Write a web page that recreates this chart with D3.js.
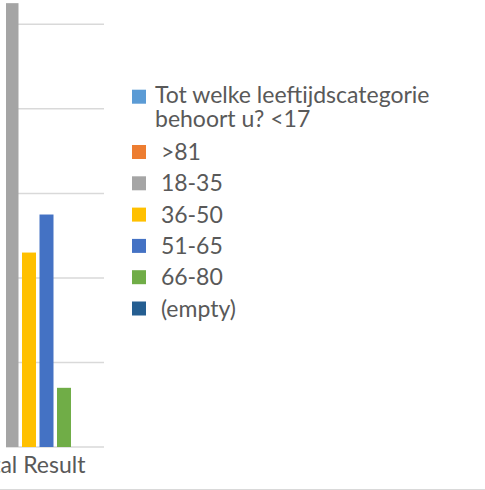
<!DOCTYPE html>
<html>
<head>
<meta charset="utf-8">
<script src="https://cdn.jsdelivr.net/npm/d3@7"></script>
<style>
  html, body { margin: 0; padding: 0; background: #fff; }
  svg { display: block; font-family: Lato, "Open Sans", sans-serif; }
</style>
</head>
<body>
<svg id="chart" width="485" height="490"></svg>
<script>
// Pivot chart, one category ("Total Result"), one bar per age group
const categories = ['Total Result']
const seriesNames = ['Tot welke leeftijdscategorie behoort u? <17', ' >81', ' 18-35', ' 36-50', ' 51-65', ' 66-80', ' (empty)']
const seriesColors = ['#5B9BD5', '#ED7D31', '#A5A5A5', '#FFC000', '#4472C4', '#70AD47', '#255E91']
const seriesValues = [0, 0, 105, 46, 55, 14, 0]
const yTicks = [0, 20, 40, 60, 80, 100]

const textColor = '#595959'
const gridColor = '#D9D9D9'
const fontSize = 23

const svg = d3.select('#chart')

// The plot area is cut off on the left in the reference, so it starts off-screen
const plot = { left: -46, right: 104, top: 24.3, bottom: 447, clipLeft: 6 }

const y = d3.scaleLinear().domain([0, 100]).range([plot.bottom, plot.top])
const xCat = d3.scaleBand().domain(categories).range([plot.left, plot.right])

// Excel-style clustered columns: cluster = band / (1 + gap width)
const gapWidth = 0.2245
const clusterW = xCat.bandwidth() / (1 + gapWidth)
const xSeries = d3.scaleBand().domain(seriesNames)
  .paddingInner(0.2).paddingOuter(0.1)

svg.append('defs').append('clipPath').attr('id', 'plot-clip')
  .append('rect')
  .attr('x', plot.clipLeft).attr('y', 0)
  .attr('width', plot.right - plot.clipLeft).attr('height', plot.bottom + 2)

const g = svg.append('g').attr('clip-path', 'url(#plot-clip)')

g.append('g').selectAll('line')
  .data(yTicks)
  .join('line')
  .attr('x1', plot.left).attr('x2', plot.right)
  .attr('y1', d => y(d)).attr('y2', d => y(d))
  .attr('stroke', gridColor)
  .attr('stroke-width', 1.5)

categories.forEach(cat => {
  const cx = xCat(cat) + xCat.bandwidth() / 2
  xSeries.range([cx - clusterW / 2, cx + clusterW / 2])
  g.append('g').selectAll('rect')
    .data(seriesValues.map((v, i) => ({ name: seriesNames[i], value: v, color: seriesColors[i] })))
    .join('rect')
    .attr('x', d => xSeries(d.name))
    .attr('width', xSeries.bandwidth())
    .attr('y', d => y(d.value))
    .attr('height', d => y(0) - y(d.value))
    .attr('fill', d => d.color)

  svg.append('text')
    .attr('x', cx - 2).attr('y', 473)
    .attr('text-anchor', 'middle')
    .attr('fill', textColor)
    .attr('font-size', fontSize)
    .text(cat)
})

// legend
const legend = svg.append('g')
const markerX = 132, markerSize = 14, textX = 155
const rowGap = 31.3, lineGap = 24, maxTextW = 300
let cy = 96.7
seriesNames.forEach((name, i) => {
  const item = legend.append('g')
  item.append('rect')
    .attr('x', markerX).attr('y', cy - markerSize / 2)
    .attr('width', markerSize).attr('height', markerSize)
    .attr('fill', seriesColors[i])
  const text = item.append('text')
    .attr('fill', textColor)
    .attr('font-size', fontSize)
    .style('white-space', 'pre')

  // simple word wrap
  const words = name.split(' ')
  let line = []
  let lines = 0
  const base = cy + (i === 0 ? 6.5 : 8)
  let tspan = text.append('tspan').attr('x', textX).attr('y', base)
  words.forEach(w => {
    line.push(w)
    tspan.text(line.join(' '))
    if (tspan.node().getComputedTextLength() > maxTextW && line.length > 1) {
      line.pop()
      tspan.text(line.join(' '))
      line = [w]
      lines++
      tspan = text.append('tspan').attr('x', textX).attr('y', base + lines * lineGap).text(w)
    }
  })
  cy += rowGap + lines * lineGap
})

// chart border bottom edge
svg.append('line')
  .attr('x1', 0).attr('x2', 485)
  .attr('y1', 489.5).attr('y2', 489.5)
  .attr('stroke', gridColor)
</script>
</body>
</html>
